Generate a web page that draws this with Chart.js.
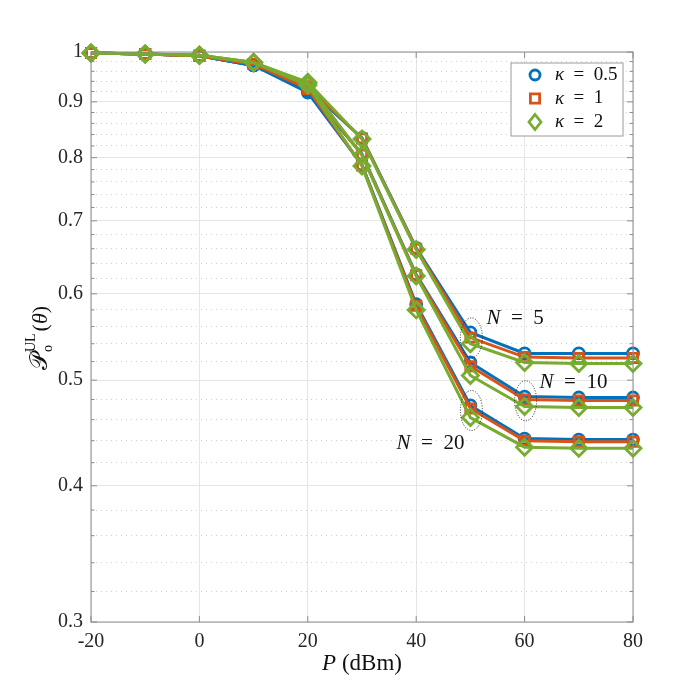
<!DOCTYPE html>
<html lang="en">
<head>
<meta charset="UTF-8">
<title>Uplink coverage vs transmit power</title>
<script src="https://cdn.jsdelivr.net/npm/chart.js"></script>
<style>
    body { margin: 0; background: #fff; }
    #wrap { width: 700px; height: 700px; }
</style>
</head>
<body>
<div id="wrap"><canvas id="chart"></canvas></div>
<script>
    // x values (dBm)
    const powerDbm = [-20, -10, 0, 10, 20, 30, 40, 50, 60, 70, 80];

    // N = 5
    const n5_k05 = [0.998, 0.996, 0.992, 0.972, 0.925, 0.834, 0.661, 0.553, 0.529, 0.529, 0.529];
    const n5_k1  = [0.998, 0.996, 0.992, 0.975, 0.930, 0.833, 0.660, 0.547, 0.525, 0.524, 0.524];
    const n5_k2  = [0.998, 0.996, 0.993, 0.978, 0.938, 0.832, 0.659, 0.540, 0.519, 0.518, 0.518];
    // N = 10
    const n10_k05 = [0.998, 0.996, 0.992, 0.972, 0.922, 0.806, 0.625, 0.519, 0.483, 0.482, 0.482];
    const n10_k1  = [0.998, 0.996, 0.992, 0.975, 0.928, 0.805, 0.624, 0.515, 0.480, 0.479, 0.479];
    const n10_k2  = [0.998, 0.996, 0.993, 0.978, 0.935, 0.804, 0.623, 0.505, 0.473, 0.472, 0.472];
    // N = 20
    const n20_k05 = [0.998, 0.996, 0.992, 0.972, 0.918, 0.788, 0.587, 0.474, 0.442, 0.441, 0.441];
    const n20_k1  = [0.998, 0.996, 0.992, 0.975, 0.925, 0.787, 0.585, 0.471, 0.440, 0.439, 0.439];
    const n20_k2  = [0.998, 0.996, 0.993, 0.978, 0.932, 0.786, 0.580, 0.462, 0.434, 0.433, 0.433];

    const xTicks = [-20, 0, 20, 40, 60, 80];
    const yMajorTicks = [0.3, 0.4, 0.5, 0.6, 0.7, 0.8, 0.9, 1];
    const yMinorTicks = [0.32, 0.34, 0.36, 0.38, 0.42, 0.44, 0.46, 0.48, 0.52, 0.54, 0.56, 0.58,
                         0.62, 0.64, 0.66, 0.68, 0.72, 0.74, 0.76, 0.78, 0.82, 0.84, 0.86, 0.88,
                         0.92, 0.94, 0.96, 0.98];

    const kappaValues = ['0.5', '1', '2'];
    const kappaColors = ['#0072BD', '#D95319', '#77AC30'];
    const kappaMarkers = ['circle', 'rect', 'rectRot'];
    const markerRadius = [5.5, 6.5, 8];

    const groups = [
        { n: '5',  series: [n5_k05, n5_k1, n5_k2] },
        { n: '10', series: [n10_k05, n10_k1, n10_k2] },
        { n: '20', series: [n20_k05, n20_k1, n20_k2] }
    ];

    // dotted ellipse + "N = .." labels
    const callouts = [
        { group: 0, idx: 7, dx: 15, dy: -19, align: 'left' },
        { group: 1, idx: 8, dx: 14, dy: -18, align: 'left' },
        { group: 2, idx: 7, dx: -7, dy: 33, align: 'right' }
    ];

    const SERIF = '"Liberation Serif", "DejaVu Serif", serif';
    const SP = '\u2002';
    const isMajor = v => yMajorTicks.some(m => Math.abs(m - v) < 1e-9);

    const datasets = [];
    kappaValues.forEach((kv, k) => {
        groups.forEach(g => {
            datasets.push({
                label: 'κ = ' + kv,
                data: powerDbm.map((p, i) => ({ x: p, y: g.series[k][i] })),
                borderColor: kappaColors[k],
                backgroundColor: kappaColors[k],
                borderWidth: 3,
                pointStyle: kappaMarkers[k],
                pointRadius: markerRadius[k],
                pointBorderWidth: 2.8,
                pointBackgroundColor: 'rgba(0,0,0,0)',
                pointBorderColor: kappaColors[k],
                tension: 0,
                clip: false,
                order: 2 - k
            });
        });
    });

    function drawMarker(ctx, style, x, y, r) {
        ctx.beginPath();
        if (style === 'circle') {
            ctx.arc(x, y, r, 0, Math.PI * 2);
        } else if (style === 'rect') {
            const s = r * Math.SQRT1_2;
            ctx.rect(x - s, y - s, 2 * s, 2 * s);
        } else {
            ctx.moveTo(x, y - r); ctx.lineTo(x + r * 0.8, y); ctx.lineTo(x, y + r); ctx.lineTo(x - r * 0.8, y); ctx.closePath();
        }
        ctx.stroke();
    }

    // "N = 5" style text with italic first symbol
    function mathText(ctx, sym, rest, size, x, y, align) {
        ctx.font = 'italic ' + size + 'px ' + SERIF;
        const w1 = ctx.measureText(sym).width;
        ctx.font = size + 'px ' + SERIF;
        const w2 = ctx.measureText(rest).width;
        let left = align === 'right' ? x - w1 - w2 : (align === 'center' ? x - (w1 + w2) / 2 : x);
        ctx.textAlign = 'left';
        ctx.textBaseline = 'middle';
        ctx.font = 'italic ' + size + 'px ' + SERIF;
        ctx.fillText(sym, left, y);
        ctx.font = size + 'px ' + SERIF;
        ctx.fillText(rest, left + w1, y);
    }

    const decorPlugin = {
        id: 'decor',
        afterDatasetsDraw(chart) {
            const { ctx, chartArea: ca, scales } = chart;
            const xs = scales.x, ys = scales.y;
            ctx.save();

            // callouts
            callouts.forEach(c => {
                const g = groups[c.group];
                const v = (g.series[0][c.idx] + g.series[1][c.idx] + g.series[2][c.idx]) / 3;
                const px = xs.getPixelForValue(powerDbm[c.idx]) + 1;
                const py = ys.getPixelForValue(v);
                ctx.strokeStyle = '#222';
                ctx.lineWidth = 1;
                ctx.setLineDash([1, 1.6]);
                ctx.beginPath();
                ctx.ellipse(px, py, 11, 20, 0, 0, Math.PI * 2);
                ctx.stroke();
                ctx.setLineDash([]);
                ctx.fillStyle = '#111';
                mathText(ctx, 'N', SP + '=' + SP + g.n, 21, px + c.dx, py + c.dy, c.align);
            });

            // axes box + inward ticks
            ctx.strokeStyle = '#8c8c8c';
            ctx.lineWidth = 1;
            ctx.strokeRect(ca.left, ca.top, ca.right - ca.left, ca.bottom - ca.top);
            ctx.beginPath();
            ys.ticks.forEach(t => {
                const y = ys.getPixelForValue(t.value);
                const len = isMajor(t.value) ? 6 : 3.5;
                ctx.moveTo(ca.left, y); ctx.lineTo(ca.left + len, y);
                ctx.moveTo(ca.right, y); ctx.lineTo(ca.right - len, y);
            });
            xs.ticks.forEach(t => {
                const x = xs.getPixelForValue(t.value);
                ctx.moveTo(x, ca.bottom); ctx.lineTo(x, ca.bottom - 6);
                ctx.moveTo(x, ca.top); ctx.lineTo(x, ca.top + 6);
            });
            ctx.stroke();

            // legend
            const bw = 112, bh = 73;
            const bx = ca.right - 10 - bw, by = ca.top + 11;
            ctx.fillStyle = '#fff';
            ctx.fillRect(bx, by, bw, bh);
            ctx.strokeStyle = '#9a9a9a';
            ctx.lineWidth = 1;
            ctx.strokeRect(bx, by, bw, bh);
            kappaValues.forEach((kv, k) => {
                const cy = by + 12 + k * 23.5;
                ctx.strokeStyle = kappaColors[k];
                ctx.lineWidth = 2.8;
                drawMarker(ctx, kappaMarkers[k], bx + 24, cy, [5, 6.5, 7.5][k]);
                ctx.fillStyle = '#111';
                mathText(ctx, 'κ', SP + '=' + SP + kv, 19, bx + 44, cy, 'left');
            });

            // axis titles
            ctx.fillStyle = '#111';
            mathText(ctx, 'P', ' (dBm)', 23, (ca.left + ca.right) / 2, 664, 'center');

            ctx.save();
            ctx.translate(40, 338);
            ctx.rotate(-Math.PI / 2);
            ctx.textBaseline = 'alphabetic';
            ctx.textAlign = 'left';
            const bigF = '24px "DejaVu Serif", ' + SERIF;
            const smallF = '14px ' + SERIF;
            ctx.font = bigF;
            const wP = ctx.measureText('𝒫').width;
            ctx.font = smallF;
            const wS = Math.max(ctx.measureText('UL').width, ctx.measureText('o').width);
            ctx.font = '22px ' + SERIF;
            const wA = ctx.measureText('(').width;
            ctx.font = 'italic 22px ' + SERIF;
            const wT = ctx.measureText('θ').width;
            const total = wP + wS + 3 + wA * 2 + wT;
            let x0 = -total / 2;
            const base = 7;
            ctx.font = bigF;
            ctx.fillText('𝒫', x0, base);
            x0 += wP + 1;
            ctx.font = smallF;
            ctx.fillText('UL', x0, base - 12);
            ctx.fillText('o', x0, base + 5);
            x0 += wS + 2;
            ctx.font = '22px ' + SERIF;
            ctx.fillText('(', x0, base); x0 += wA;
            ctx.font = 'italic 22px ' + SERIF;
            ctx.fillText('θ', x0, base); x0 += wT;
            ctx.font = '22px ' + SERIF;
            ctx.fillText(')', x0, base);
            ctx.restore();

            ctx.restore();
        }
    };

    new Chart(document.getElementById('chart'), {
        type: 'line',
        data: { datasets: datasets },
        plugins: [decorPlugin],
        options: {
            responsive: true,
            maintainAspectRatio: false,
            animation: false,
            devicePixelRatio: 1,
            layout: { padding: { left: 0, top: 52, right: 67, bottom: 0 } },
            plugins: {
                legend: { display: false },
                tooltip: { enabled: false }
            },
            scales: {
                x: {
                    type: 'linear',
                    min: -20,
                    max: 80,
                    afterBuildTicks: s => { s.ticks = xTicks.map(v => ({ value: v })); },
                    afterFit: s => { s.height = 78; },
                    grid: { color: '#e6e6e6', lineWidth: 1, drawTicks: false },
                    border: { display: false },
                    ticks: {
                        autoSkip: false,
                        maxRotation: 0,
                        padding: 8,
                        color: '#262626',
                        font: { family: SERIF, size: 20 },
                        callback: v => String(v)
                    }
                },
                y: {
                    type: 'logarithmic',
                    min: 0.3,
                    max: 1,
                    afterBuildTicks: s => {
                        s.ticks = yMajorTicks.concat(yMinorTicks).sort((a, b) => a - b).map(v => ({ value: v }));
                    },
                    afterFit: s => { s.width = 91; },
                    grid: {
                        drawTicks: false,
                        lineWidth: 1,
                        color: c => (c.tick && isMajor(c.tick.value)) ? '#e6e6e6' : '#cfcfcf'
                    },
                    border: {
                        display: false,
                        dash: c => (c.tick && !isMajor(c.tick.value)) ? [1, 4] : []
                    },
                    ticks: {
                        autoSkip: false,
                        padding: 8,
                        color: '#262626',
                        font: { family: SERIF, size: 20 },
                        callback: v => isMajor(v) ? String(v) : ''
                    }
                }
            }
        }
    });
</script>
</body>
</html>
